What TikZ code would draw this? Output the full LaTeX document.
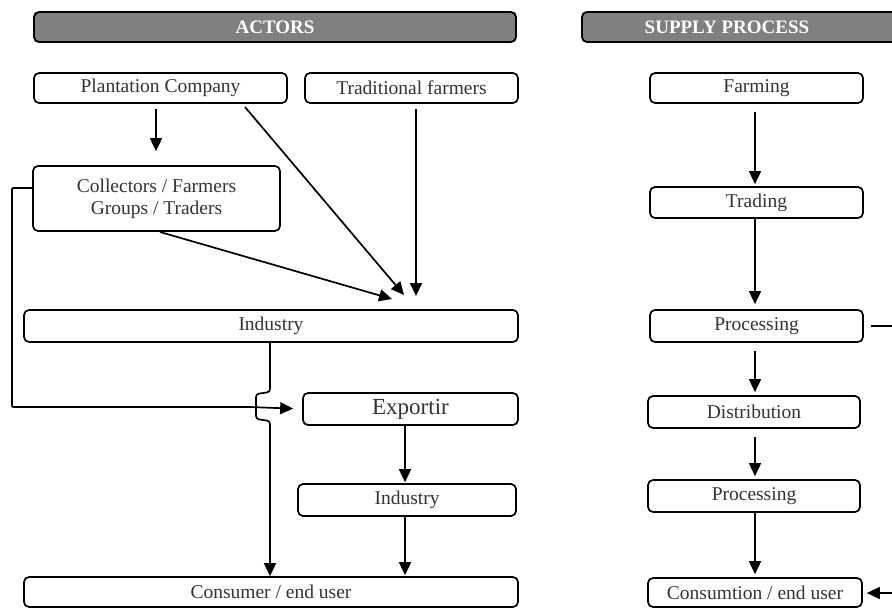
\documentclass[tikz,border=0pt]{standalone}
\usepackage{fontspec}
\setmainfont{Liberation Serif}
\usetikzlibrary{arrows.meta}
\tikzset{
  box/.style={draw, line width=1.7pt, rounded corners=5pt, inner sep=0pt,
    text=black!80, font=\fontsize{19.5}{22}\selectfont},
  headbox/.style={draw, line width=1.9pt, rounded corners=5pt, fill=black!50},
  headtext/.style={text=white, font=\bfseries\fontsize{19}{21}\selectfont},
  arr/.style={line width=1.7pt, -{Triangle[length=13pt,width=12pt]}},
  wire/.style={line width=1.7pt}
}
\begin{document}
\begin{tikzpicture}[x=1pt,y=-1pt]
\useasboundingbox (0,0) rectangle (892,608);
% headers
\node[headbox, minimum width=482, minimum height=30] (actors) at (275,27) {};
\node[headtext] (actorslbl) at (actors) {ACTORS};
\node[headbox, minimum width=330, minimum height=30] (supply) at (747,27) {};
\node[headtext] (supplylbl) at (727,27) {SUPPLY PROCESS};
% actors
\node[box, minimum width=253, minimum height=30] (plant) at (160.5,88) {Plantation Company};
\node[box, minimum width=213, minimum height=30] (trad) at (411.5,88) {Traditional farmers};
\node[box, minimum width=247, minimum height=65, align=center] (coll) at (156.5,198.5)
  {Collectors / Farmers\\Groups / Traders};
\node[box, minimum width=494, minimum height=32] (ind) at (271,326) {Industry};
\node[box, minimum width=215, minimum height=32, font=\fontsize{23}{26}\selectfont] (exp) at (410.5,409) {Exportir};
\node[box, minimum width=218, minimum height=32] (indb) at (407,500) {Industry};
\node[box, minimum width=494, minimum height=30] (cons) at (271,592) {Consumer / end user};
% supply process
\node[box, minimum width=213, minimum height=30] (farm) at (756.5,88) {Farming};
\node[box, minimum width=213, minimum height=31] (trade) at (756.5,202.5) {Trading};
\node[box, minimum width=213, minimum height=32] (proc) at (756.5,326) {Processing};
\node[box, minimum width=212, minimum height=32] (dist) at (754,412) {Distribution};
\node[box, minimum width=212, minimum height=32] (procb) at (754,496) {Processing};
\node[box, minimum width=214, minimum height=29] (consum) at (755,592.5) {Consumtion / end user};

% free ends
\coordinate (plantout) at (245,107);
\coordinate (collout) at (160,232);
\coordinate (hubA) at (404,295);
\coordinate (hubB) at (392,299);
\coordinate (hubC) at (416,296);
\coordinate (bridge) at (270,407);
\coordinate (edgeA) at (895,326);
\coordinate (edgeB) at (895,593);

% actor arrows
\draw[arr, shorten <=5pt, shorten >=14pt] (plant.south -| 156,0) -- (coll.north -| 156,0);
\draw[arr] (plantout) -- (hubA);
\draw[arr, shorten <=5pt] (trad.south -| hubC) -- (hubC);
\draw[arr] (collout) -- (hubB);
\draw[wire, rounded corners=1pt] (coll.west |- 0,188) -- (12,188) -- (12,407) -- (250,407);
\draw[arr, shorten >=9pt] (250,407) -- (exp.west);
\draw[arr, rounded corners=3pt] (ind.south -| bridge) -- (270,392) -- (256,394) -- (256,419)
  -- (270,421) -- (cons.north -| bridge);
\draw[arr, shorten >=1pt] (exp.south -| 405,0) -- (indb.north -| 405,0);
\draw[arr, shorten >=1pt] (indb.south -| 405,0) -- (cons.north -| 405,0);

% process arrows
\draw[arr, shorten <=8pt, shorten >=2pt] (farm.south -| 755,0) -- (trade.north -| 755,0);
\draw[arr, shorten >=5pt] (trade.south -| 755,0) -- (proc.north -| 755,0);
\draw[arr, shorten <=8pt, shorten >=3pt] (proc.south -| 755,0) -- (dist.north -| 755,0);
\draw[arr, shorten <=8pt, shorten >=3pt] (dist.south -| 755,0) -- (procb.north -| 755,0);
\draw[arr, shorten >=3pt] (procb.south -| 755,0) -- (consum.north -| 755,0);
\draw[wire, shorten <=7pt] (proc.east) -- (edgeA);
\draw[arr, shorten >=4pt] (edgeB) -- (consum.east |- edgeB);
\end{tikzpicture}
\end{document}
